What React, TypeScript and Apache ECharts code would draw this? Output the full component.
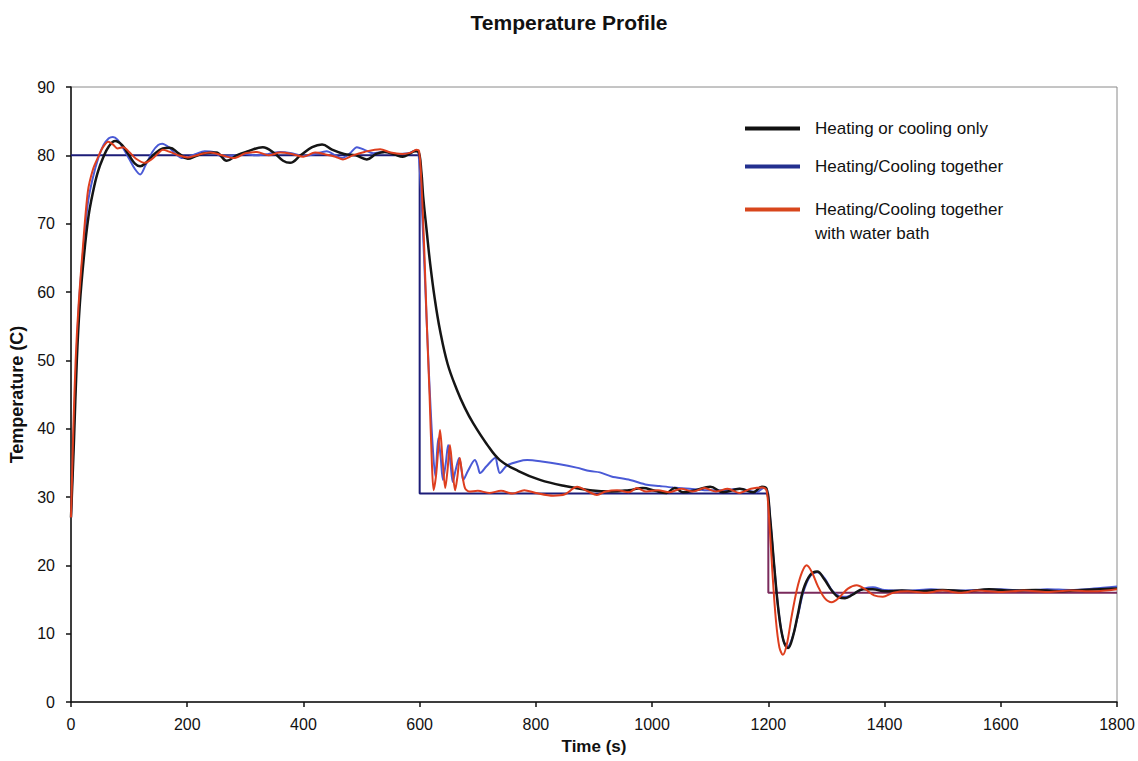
import React, { useEffect, useRef } from "react";
import * as echarts from "echarts";

const TITLE = "Temperature Profile";
const X_NAME = "Time (s)";
const Y_NAME = "Temperature (C)";
const NAME_A = "Heating or cooling only";
const NAME_B = "Heating/Cooling together";
const NAME_C = "Heating/Cooling together with water bath";

const xTicks = { min: 0, max: 1800, interval: 200 };
const yTicks = { min: 0, max: 90, interval: 10 };

const setpointHigh: [number, number][] = [
  [0, 80], [600, 80], [600, 30.5], [1200, 30.5],
];
const setpointLow: [number, number][] = [
  [1200, 30.5], [1200, 16], [1800, 16],
];

const onlyData: [number, number][] = [
  [0, 27], [5, 38], [10, 50], [15, 58], [22, 65], [30, 71], [38, 74.7], [46, 77.5], [55, 79.6], [65, 81.3],
  [76, 82.1], [88, 81.5], [100, 80], [110, 78.8], [119, 78.4], [130, 79], [145, 80.3], [158, 81], [170, 81.1],
  [185, 80.3], [201, 79.5], [215, 79.9], [230, 80.3], [250, 80.4], [268, 79.2], [285, 80], [305, 80.6],
  [330, 81.2], [350, 80.3], [365, 79.2], [377, 78.9], [395, 80], [415, 81.2], [432, 81.6], [450, 80.8],
  [470, 80.2], [490, 80], [509, 79.4], [525, 80.2], [540, 80.5], [557, 80.1], [571, 79.8], [582, 80.2],
  [592, 80.6], [598, 80.5], [603, 77.5], [606, 74], [612, 69], [618, 64.2], [626, 59], [635, 54.4], [648, 49.5],
  [664, 45.7], [678, 43], [692, 40.8], [715, 37.8], [738, 35.4], [770, 33.8], [807, 32.5], [850, 31.6],
  [893, 31], [930, 30.8], [960, 31], [984, 31.3], [1005, 30.9], [1025, 30.6], [1039, 31.3], [1053, 30.7],
  [1075, 31], [1100, 31.5], [1122, 30.7], [1151, 31.2], [1174, 30.7], [1189, 31.5], [1197, 31.2],
  [1203, 27], [1210, 20], [1218, 13], [1226, 9], [1234, 7.9], [1242, 9.5], [1250, 12.5], [1260, 16.4],
  [1272, 18.6], [1284, 19.1], [1296, 18], [1310, 16.2], [1322, 15.3], [1332, 15.2], [1345, 15.7],
  [1363, 16.5], [1380, 16.5], [1400, 16.2], [1430, 16.3], [1460, 16.2], [1500, 16.4], [1540, 16.2],
  [1580, 16.5], [1620, 16.3], [1660, 16.4], [1700, 16.2], [1740, 16.4], [1800, 16.6],
];

const togetherData: [number, number][] = [
  [0, 27], [5, 40], [10, 52], [15, 60], [22, 67], [29, 73], [37, 76.5], [47, 79.6], [56, 81.5], [65, 82.5],
  [72, 82.7], [80, 82.3], [90, 81], [100, 79.5], [110, 78], [119, 77.2], [128, 78.5], [140, 80.5], [150, 81.5],
  [157, 81.7], [168, 81.2], [180, 80.2], [192, 79.6], [201, 79.7], [215, 80.2], [230, 80.6], [245, 80.5],
  [260, 79.8], [275, 79.9], [300, 80.2], [320, 80], [340, 80.2], [360, 80.5], [380, 80.3], [400, 79.9],
  [420, 80.2], [440, 80.6], [455, 80], [466, 79.6], [480, 80.3], [492, 81.2], [505, 80.8], [520, 80.3],
  [540, 80.5], [560, 80.2], [580, 80.3], [594, 80.7], [598, 80.3], [604, 72], [610, 60], [616, 48],
  [622, 38], [627, 33], [632, 38.6], [636, 36], [640, 32.5], [645, 35], [649, 37.6], [653, 35], [657, 32.2],
  [662, 34], [668, 35.7], [672, 34], [675, 32.5], [683, 33.8], [695, 35.4], [700, 34.5], [704, 33.5],
  [715, 34.5], [730, 35.7], [734, 34.5], [738, 33.5], [750, 34.6], [770, 35.2], [785, 35.4], [810, 35.2],
  [841, 34.8], [870, 34.3], [893, 33.8], [910, 33.6], [930, 33], [962, 32.5], [991, 31.8], [1013, 31.6],
  [1036, 31.4], [1065, 31.2], [1090, 31], [1122, 31], [1150, 31.2], [1180, 30.7], [1192, 31.3], [1198, 31],
  [1203, 27], [1210, 20], [1218, 13], [1226, 9], [1233, 8.1], [1241, 9.3], [1250, 12.3], [1260, 16],
  [1272, 18.4], [1284, 19], [1296, 18.2], [1310, 16.3], [1322, 15.5], [1335, 15.4], [1350, 16], [1365, 16.6],
  [1380, 16.8], [1400, 16.4], [1440, 16.3], [1480, 16.5], [1520, 16.3], [1560, 16.4], [1600, 16.5],
  [1640, 16.3], [1680, 16.5], [1720, 16.4], [1760, 16.6], [1800, 16.9],
];

const bathData: [number, number][] = [
  [0, 27], [4, 40], [8, 50], [13, 58], [20, 66], [29, 74.7], [38, 78], [47, 79.8], [55, 81.2], [64, 82],
  [72, 81.6], [80, 81], [90, 81.2], [100, 80.5], [112, 79.5], [127, 78.9], [140, 79.5], [150, 80.3],
  [158, 80.8], [170, 80.5], [185, 80], [201, 79.7], [220, 80.1], [240, 80.4], [260, 80], [280, 79.6],
  [300, 80.3], [320, 80.5], [340, 80], [360, 80.4], [380, 80.2], [400, 79.8], [420, 80.4], [440, 80.1],
  [455, 79.8], [468, 79.4], [485, 80], [505, 80.5], [532, 80.9], [550, 80.4], [570, 80.2], [585, 80.4],
  [594, 80.8], [599, 80.6], [603, 76], [608, 66], [612, 56], [617, 45], [621, 35], [624, 31], [628, 33],
  [632, 37], [635, 39.8], [639, 36], [644, 31.3], [648, 34], [652, 37.6], [656, 34.5], [661, 31], [665, 33],
  [669, 35.7], [673, 33.5], [678, 31.3], [685, 30.8], [700, 30.9], [720, 30.6], [740, 30.9], [760, 30.5],
  [780, 31], [800, 30.6], [830, 30.2], [850, 30.4], [871, 31.5], [890, 30.8], [905, 30.3], [920, 30.8],
  [940, 31], [960, 30.7], [974, 31.3], [990, 30.8], [1010, 31], [1030, 30.7], [1050, 31.2], [1070, 30.8],
  [1090, 31.3], [1110, 30.8], [1130, 31.2], [1150, 30.6], [1170, 31.2], [1190, 31.4], [1197, 31],
  [1202, 26], [1207, 19], [1213, 12], [1219, 8], [1225, 6.9], [1232, 8.5], [1240, 12.5], [1249, 16.4],
  [1258, 19], [1266, 20], [1275, 19], [1285, 17], [1297, 15.2], [1309, 14.6], [1322, 15.3], [1337, 16.6],
  [1352, 17.1], [1367, 16.5], [1382, 15.6], [1397, 15.4], [1415, 16], [1440, 16.2], [1470, 16], [1500, 16.3],
  [1530, 16], [1560, 16.3], [1600, 16.1], [1640, 16.3], [1680, 16.1], [1720, 16.3], [1760, 16.2], [1800, 16.5],
];

const FONT = "Liberation Sans, Arial, sans-serif";

export default function App() {
  const ref = useRef<HTMLDivElement>(null);
  useEffect(() => {
    if (!ref.current) return;
    const chart = echarts.init(ref.current, undefined, { renderer: "svg" });
    const legendBase = {
      orient: "vertical" as const,
      left: 740,
      icon: "rect",
      itemWidth: 55,
      itemHeight: 4,
      textStyle: { fontSize: 17, color: "#111", fontFamily: FONT, padding: [0, 0, 0, 10] },
      selectedMode: false,
    };
    chart.setOption({
      animation: false,
      backgroundColor: "#fff",
      title: {
        text: TITLE,
        left: "center",
        top: 7,
        textStyle: { fontSize: 21, fontWeight: "bold", color: "#111", fontFamily: FONT },
      },
      legend: [
        { ...legendBase, top: 115, data: [{ name: NAME_A, itemStyle: { color: "#111" } }] },
        { ...legendBase, top: 153, data: [{ name: NAME_B, itemStyle: { color: "#23308f" } }] },
        {
          ...legendBase,
          top: 196,
          data: [{ name: NAME_C, itemStyle: { color: "#d8461c" } }],
          formatter: () => "Heating/Cooling together",
        },
      ],
      graphic: [
        {
          type: "text",
          x: 815,
          y: 233,
          style: { text: "with water bath", fontSize: 17, fontFamily: FONT, fill: "#111", verticalAlign: "middle" },
        },
      ],
      grid: {
        left: 71,
        right: 21,
        top: 87,
        bottom: 59,
        show: true,
        borderColor: "#8a8a8a",
        borderWidth: 1,
        backgroundColor: "transparent",
      },
      xAxis: {
        type: "value",
        min: xTicks.min,
        max: xTicks.max,
        interval: xTicks.interval,
        name: X_NAME,
        nameLocation: "middle",
        nameGap: 36,
        nameTextStyle: { fontSize: 17, fontWeight: "bold", color: "#111", fontFamily: FONT },
        axisLine: { show: true, lineStyle: { color: "#111", width: 1.5 } },
        axisTick: { show: true, length: 5, lineStyle: { color: "#111", width: 1.5 } },
        axisLabel: { fontSize: 16, color: "#111", fontFamily: FONT, margin: 14, formatter: (v: number) => String(v) },
        splitLine: { show: false },
      },
      yAxis: {
        type: "value",
        min: yTicks.min,
        max: yTicks.max,
        interval: yTicks.interval,
        name: Y_NAME,
        nameLocation: "middle",
        nameGap: 44,
        nameTextStyle: { fontSize: 18, fontWeight: "bold", color: "#111", fontFamily: FONT },
        axisLine: { show: true, lineStyle: { color: "#111", width: 1.5 } },
        axisTick: { show: true, length: 5, lineStyle: { color: "#111", width: 1.5 } },
        axisLabel: { fontSize: 16, color: "#111", fontFamily: FONT, margin: 16, formatter: (v: number) => String(v) },
        splitLine: { show: false },
      },
      series: [
        {
          name: "Setpoint",
          type: "line",
          data: setpointHigh,
          showSymbol: false,
          lineStyle: { color: "#1c1c78", width: 2 },
          z: 1,
        },
        {
          name: "Setpoint low",
          type: "line",
          data: setpointLow,
          showSymbol: false,
          lineStyle: { color: "#7a2a5c", width: 2 },
          z: 1,
        },
        {
          name: NAME_B,
          type: "line",
          data: togetherData,
          showSymbol: false,
          smooth: 0.3,
          color: "#23308f",
          lineStyle: { color: "#4a5ad6", width: 2 },
          z: 2,
        },
        {
          name: NAME_A,
          type: "line",
          data: onlyData,
          showSymbol: false,
          smooth: 0.4,
          color: "#111",
          lineStyle: { color: "#151515", width: 2.5 },
          z: 3,
        },
        {
          name: NAME_C,
          type: "line",
          data: bathData,
          showSymbol: false,
          smooth: 0.3,
          color: "#d8461c",
          lineStyle: { color: "#de3e1e", width: 2 },
          z: 4,
        },
      ],
    });
    return () => chart.dispose();
  }, []);
  return (
    <div
      ref={ref}
      style={{ position: "fixed", left: 0, top: 0, width: 1138, height: 761, background: "#fff" }}
    />
  );
}
